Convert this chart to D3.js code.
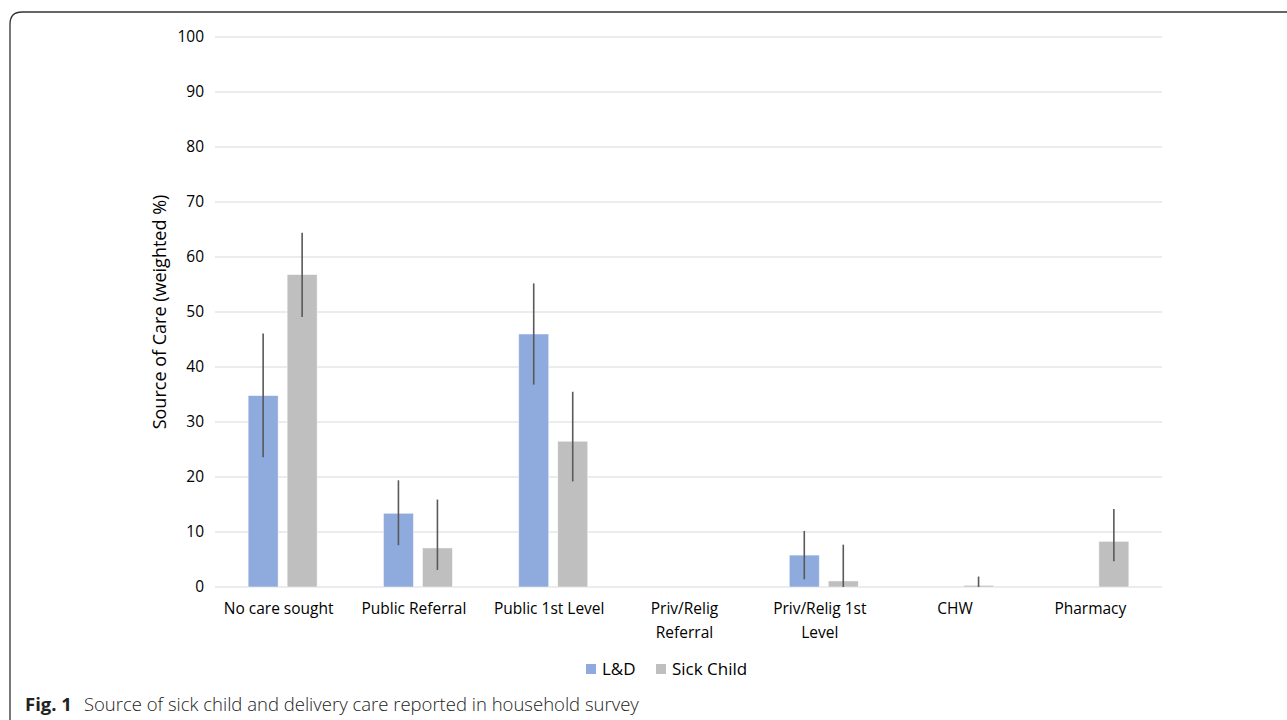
<!DOCTYPE html>
<html><head><meta charset="utf-8">
<script src="https://cdn.jsdelivr.net/npm/d3@7"></script>
<style>body{margin:0;background:#fff;} svg{display:block;}</style>
</head><body>
<svg id="c" width="1287" height="720"></svg>
<script>
const categories = [["No care sought"],["Public Referral"],["Public 1st Level"],["Priv/Relig","Referral"],["Priv/Relig 1st","Level"],["CHW"],["Pharmacy"]];
const seriesNames = ["L&D","Sick Child"];
const ldValues = [34.8,13.4,46.0,0,5.8,0,0];
const ldLow = [23.6,7.6,36.8,0,1.4,0,0];
const ldHigh = [46.1,19.4,55.2,0,10.2,0,0];
const scValues = [56.8,7.1,26.5,0,1.1,0.3,8.3];
const scLow = [49.1,3.1,19.2,0,0,0,4.7];
const scHigh = [64.4,15.9,35.5,0,7.7,1.9,14.2];
const yTicks = [0,10,20,30,40,50,60,70,80,90,100];
const colors = ["#8FAADC","#BFBFBF"];

const svg = d3.select("#c");
const font = "'Open Sans', 'Noto Sans', sans-serif";
svg.append("path").attr("d","M10,730 L10,24 Q10,12 22,12 L1300,12").attr("fill","none").attr("stroke","#333").attr("stroke-width",1.3);

const x0 = d3.scaleBand().domain(d3.range(categories.length)).range([215,1162]);
const y = d3.scaleLinear().domain([0,100]).range([587,37]);

const g = svg.append("g");
g.selectAll(".grid").data(yTicks).enter().append("line")
 .attr("x1",215).attr("x2",1162).attr("y1",d=>y(d)).attr("y2",d=>y(d))
 .attr("stroke","#D9D9D9").attr("stroke-width",1.2);
g.selectAll(".yt").data(yTicks).enter().append("text")
 .attr("x",204).attr("y",d=>y(d)).attr("dy","0.35em").attr("text-anchor","end")
 .attr("font-family",font).attr("font-size",15.5).attr("fill","#000").text(d=>d);

const barW = 30, gap = 9;
const series = [
 {vals:ldValues, lo:ldLow, hi:ldHigh, off:-(gap/2+barW)},
 {vals:scValues, lo:scLow, hi:scHigh, off:gap/2}
];
const cx = i => x0(i)+x0.bandwidth()/2;
series.forEach((s,si)=>{
  const idx = d3.range(s.vals.length);
  g.selectAll(".b"+si).data(idx).enter().append("rect")
   .attr("x",i=>cx(i)+s.off).attr("width",barW)
   .attr("y",i=>y(s.vals[i])).attr("height",i=>y(0)-y(s.vals[i]))
   .attr("fill",colors[si]).attr("stroke",i=>s.vals[i]>0?"#ffffff":"none").attr("stroke-opacity",0.6).attr("stroke-width",0.8);
  g.selectAll(".e"+si).data(idx.filter(i=>s.hi[i]>0)).enter().append("line")
   .attr("x1",i=>cx(i)+s.off+barW/2).attr("x2",i=>cx(i)+s.off+barW/2)
   .attr("y1",i=>y(s.lo[i])).attr("y2",i=>y(s.hi[i]))
   .attr("stroke","#595959").attr("stroke-width",1.6);
});

categories.forEach((lines,i)=>{
  lines.forEach((l,j)=>{
    g.append("text").attr("x",cx(i)-4).attr("y",609+j*23.5).attr("dy","0.35em")
     .attr("text-anchor","middle").attr("font-family",font).attr("font-size",15.5).attr("fill","#000").text(l);
  });
});

svg.append("text").attr("transform","translate(166,312) rotate(-90)").attr("text-anchor","middle")
 .attr("font-family",font).attr("font-size",18).attr("fill","#000").text("Source of Care (weighted %)");

const leg = svg.append("g");
const legItems = [{x:586,name:seriesNames[0]},{x:656,name:seriesNames[1]}];
legItems.forEach((it,i)=>{
  leg.append("rect").attr("x",it.x).attr("y",664).attr("width",10).attr("height",10).attr("fill",colors[i]);
  leg.append("text").attr("x",it.x+16).attr("y",669).attr("dy","0.35em").attr("font-family",font)
   .attr("font-size",17).attr("fill","#000").text(it.name);
});

const cap = svg.append("text").attr("x",25).attr("y",711).attr("font-family","'Open Sans', sans-serif").attr("font-size",18.5).attr("fill","#222");
cap.append("tspan").attr("font-weight","bold").text("Fig. 1");
cap.append("tspan").attr("dx",12).attr("font-weight","300").text("Source of sick child and delivery care reported in household survey");
</script>
</body></html>
